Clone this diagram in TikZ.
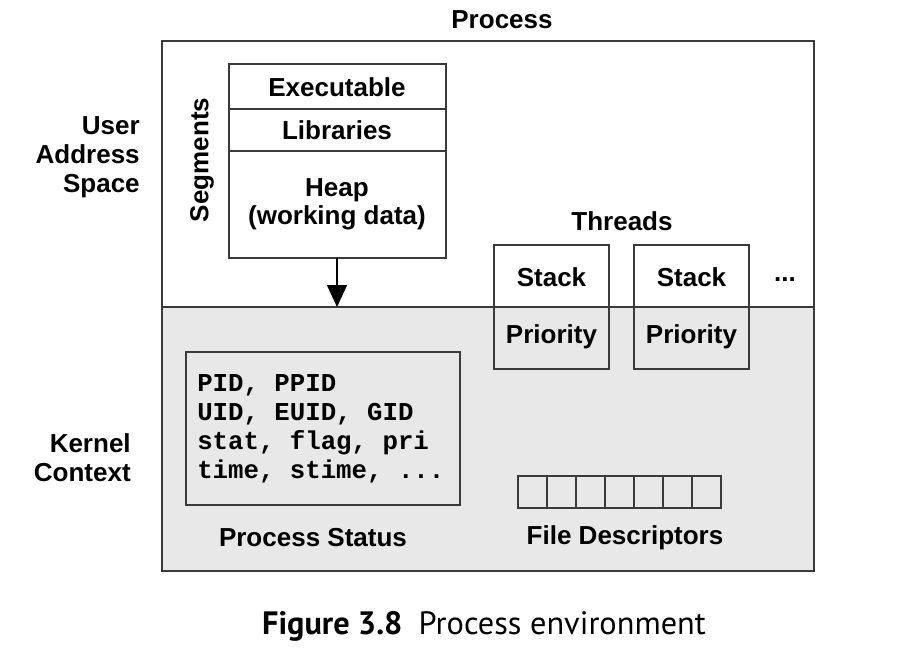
\documentclass[tikz,border=0pt]{standalone}
\usepackage{fontspec}
\setmainfont{Liberation Sans}
\setmonofont{Liberation Mono}
\newfontfamily\capfont{PT Sans}
\usetikzlibrary{arrows.meta}
\definecolor{kernelgray}{HTML}{E8E8E8}
\definecolor{linegray}{HTML}{3A3A3A}
\tikzset{
  label/.style={font=\fontsize{18.5}{20}\selectfont\bfseries, inner sep=0pt},
  side/.style={label, align=right, anchor=east, font=\fontsize{18.5}{20.5}\selectfont\bfseries},
  frame/.style={draw=linegray, line width=1.3pt},
  box/.style={draw=linegray, line width=1.1pt},
}
\begin{document}
\begin{tikzpicture}[x=0.025cm, y=-0.025cm]
        \useasboundingbox (0,0) rectangle (908,659);
        % Process frame, kernel half shaded
        \fill[kernelgray] (162,307) rectangle (814,571);
        \draw[frame] (162,41) rectangle (814,571);
        \draw[frame] (162,307) -- (814,307);
        \node[label] (title) at (502,20) {Process};
        % Side labels
        \node[side] (user) at (140,157) {User\\Address\\Space};
        \node[side] (kernel) at (131,458) {Kernel\\Context};
        % Segments
        \draw[box, fill=white] (229,64) rectangle (446,258);
        \draw[box] (229,109) -- (446,109);
        \draw[box] (229,151) -- (446,151);
        \node[label] (exe) at (337,87) {Executable};
        \node[label] (lib) at (337,130) {Libraries};
        \node[label, align=center, font=\fontsize{18.5}{20}\selectfont\bfseries] (heap) at (337,204) {Heap\\(working data)};
        \node[label, rotate=90] (seg) at (202,160) {Segments};
        \coordinate (heapbot) at (337,258);
        \coordinate (divtop) at (337,307);
        \draw[line width=1.1pt, -{Triangle[length=0.55cm, width=0.5cm]}] (heapbot) -- (divtop);
        % Threads
        \node[label] (threads) at (622,221) {Threads};
        \foreach \x/\n in {494/a, 634/b} {
          \fill[white] (\x,245) rectangle (\x+115,307);
          \draw[box] (\x,245) rectangle (\x+115,369);
          \node[label] (stack\n) at (\x+57.5,277) {Stack};
          \node[label] (prio\n) at (\x+57.5,337) {Priority};
        }
        \draw[frame] (494,307) -- (814,307);
        \node[label] (more) at (785,280) {...};
        % Process status
        \draw[box] (186,352) rectangle (460,505);
        \node[anchor=north west, align=left, inner sep=0pt,
              font=\fontsize{18.3}{20.8}\selectfont\ttfamily\bfseries] (status) at (197,374)
              {PID, PPID\\UID, EUID, GID\\stat, flag, pri\\time, stime, ...};
        \node[label] (statuslbl) at (313,538) {Process Status};
        % File descriptors
        \draw[box] (518,476) rectangle (721,508);
        \foreach \i in {1,...,6}
          \draw[box] (518+\i*29,476) -- (518+\i*29,508);
        \node[label] (fdlbl) at (625,538) {File Descriptors};
        % Caption
        \node[inner sep=0pt, font=\fontsize{23}{24}\selectfont\capfont] (caption) at (484,626)
              {\textbf{Figure 3.8}\hspace{0.5em}Process environment};
\end{tikzpicture}
\end{document}
